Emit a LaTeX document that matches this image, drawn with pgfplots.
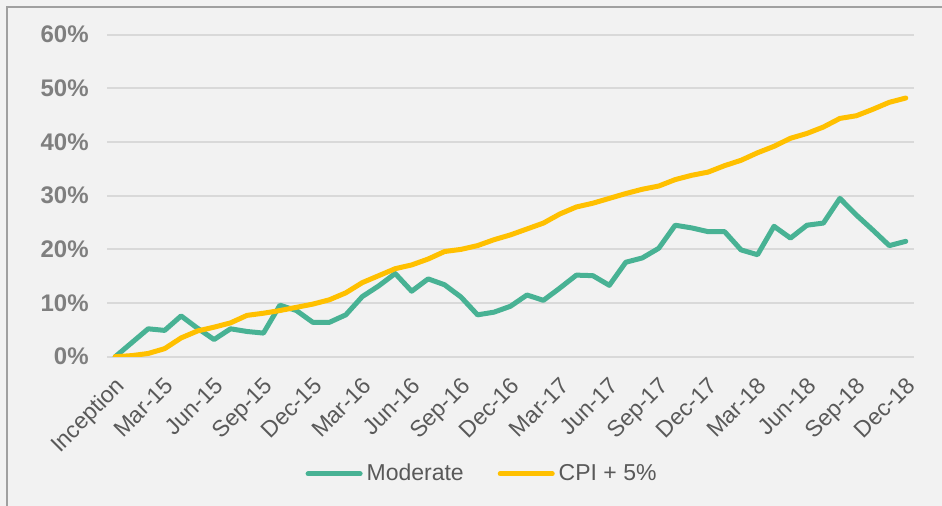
\documentclass[border=0pt]{standalone}
\usepackage{pgfplots}
\pgfplotsset{compat=1.18}
\usepackage{pgfplotstable}
\usepackage{fontspec}
\setmainfont{Liberation Sans}
\definecolor{bg}{HTML}{F2F2F2}
\definecolor{gridc}{HTML}{D9D9D9}
\definecolor{moder}{RGB}{72,178,148}
\definecolor{cpi}{HTML}{FFC000}
\definecolor{ytxt}{HTML}{7F7F7F}
\definecolor{xtxt}{HTML}{595959}
\definecolor{framec}{HTML}{A0A0A0}

\pgfplotstableread{
i mod cpi
0 0 0
1 2.6 0.2
2 5.2 0.6
3 4.9 1.5
4 7.6 3.5
5 5.3 4.8
6 3.2 5.5
7 5.2 6.3
8 4.7 7.7
9 4.4 8.1
10 9.6 8.6
11 8.6 9.2
12 6.4 9.8
13 6.4 10.6
14 7.8 11.9
15 11.2 13.8
16 13.2 15.1
17 15.5 16.4
18 12.2 17.1
19 14.5 18.2
20 13.4 19.6
21 11.1 20.0
22 7.8 20.7
23 8.3 21.8
24 9.4 22.7
25 11.5 23.8
26 10.5 24.9
27 12.8 26.6
28 15.2 27.9
29 15.1 28.6
30 13.3 29.5
31 17.6 30.4
32 18.4 31.2
33 20.2 31.8
34 24.5 33.0
35 24.0 33.8
36 23.3 34.4
37 23.3 35.6
38 19.9 36.6
39 19.0 38.0
40 24.3 39.2
41 22.1 40.7
42 24.5 41.6
43 24.9 42.8
44 29.5 44.4
45 26.4 44.9
46 23.6 46.1
47 20.7 47.4
48 21.5 48.2
}\datatable

\begin{document}
\begin{tikzpicture}
\useasboundingbox (0,0) rectangle (471bp,253bp);
\fill[bg] (0,0) rectangle (471bp,253bp);
\draw[framec, line width=1bp] (3.5bp,0) -- (3.5bp,249.5bp) -- (471bp,249.5bp);
\begin{axis}[
  at={(53.5bp,74.65bp)}, anchor=south west,
  scale only axis, width=403.5bp, height=161bp,
  xmin=-0.5, xmax=48.5, ymin=0, ymax=60,
  axis line style={draw=none},
  major tick length=0pt,
  ymajorgrids=true, xmajorgrids=false,
  y grid style={draw=gridc, line width=1bp},
  ytick={0,10,...,60},
  yticklabel={\pgfmathprintnumber{\tick}\%},
  yticklabel style={font=\fontsize{12bp}{14bp}\selectfont\bfseries, text=ytxt, inner sep=0pt, xshift=-9bp},
  xtick={0,3,...,48},
  xticklabels={Inception,Mar-15,Jun-15,Sep-15,Dec-15,Mar-16,Jun-16,Sep-16,Dec-16,Mar-17,Jun-17,Sep-17,Dec-17,Mar-18,Jun-18,Sep-18,Dec-18},
  xticklabel style={font=\fontsize{11.5bp}{13bp}\selectfont, text=xtxt, inner sep=0pt, xshift=-0.5bp, yshift=-9.3bp, rotate=45, anchor=north east},
  /pgf/number format/assume math mode=true,
  legend columns=2,
  legend style={at={(0.466,-0.364)}, anchor=center, draw=none, fill=none,
    font=\fontsize{11.5bp}{13bp}\selectfont, text=xtxt,
    /tikz/every even column/.append style={column sep=15bp},
    inner sep=0pt},
  legend image code/.code={\draw[#1, line width=2.5bp, line cap=round] (0bp,0bp) -- (26bp,0bp);},
  every axis plot/.append style={line width=2.5bp, line join=round, line cap=round},
]
\addplot[moder, mark=none] table[x=i, y=mod] {\datatable};
\addlegendentry{Moderate}
\addplot[cpi, mark=none] table[x=i, y=cpi] {\datatable};
\addlegendentry{CPI + 5\%}
\end{axis}
\end{tikzpicture}
\end{document}
